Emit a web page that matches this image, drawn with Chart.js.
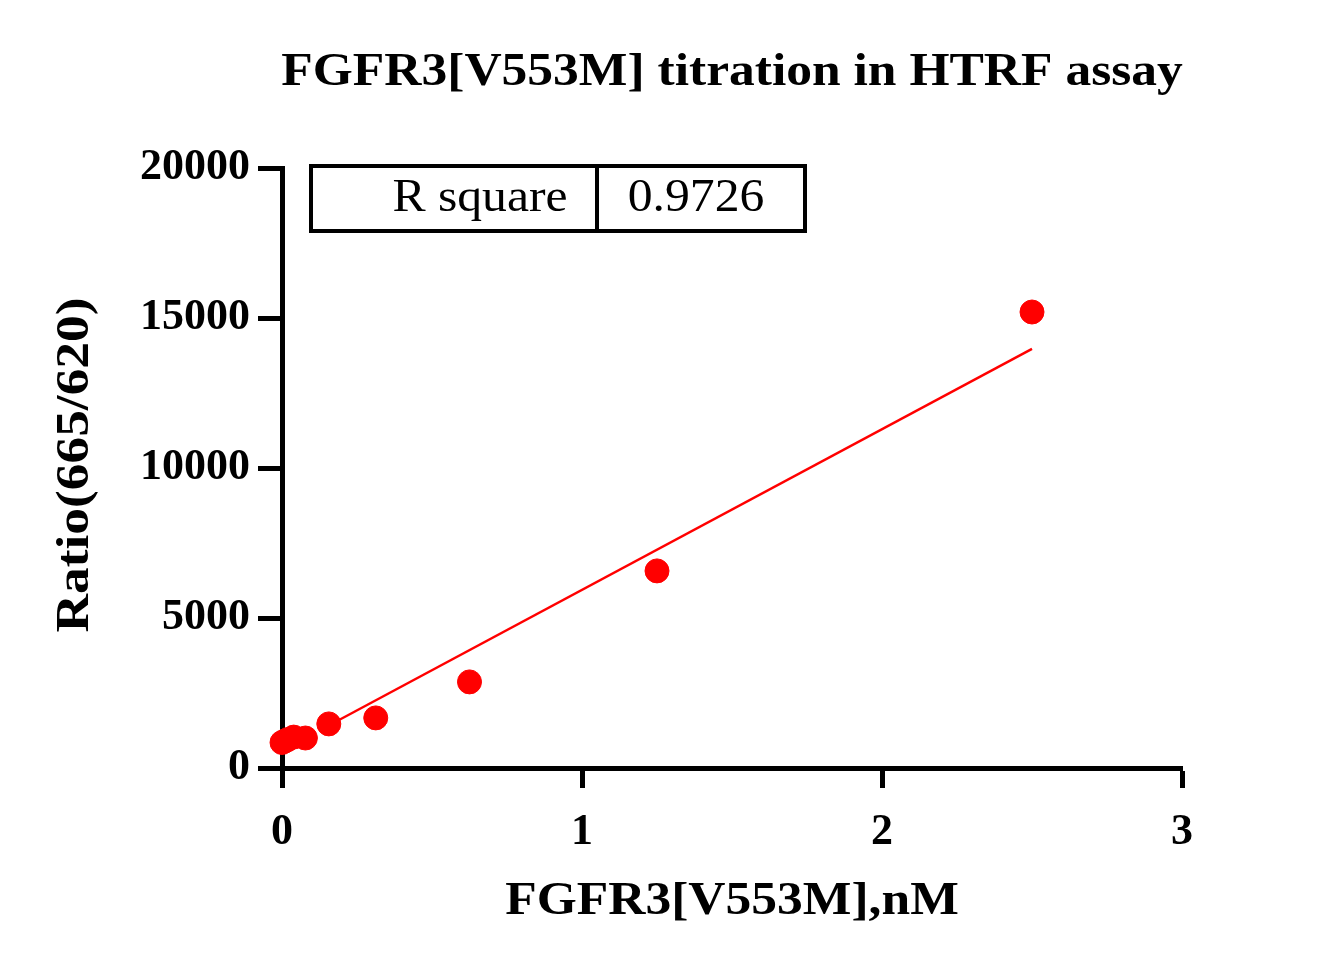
<!DOCTYPE html>
<html><head><meta charset="utf-8">
<script src="https://cdn.jsdelivr.net/npm/chart.js@4"></script>
<style>html,body{margin:0;background:#fff}#c{display:block}</style>
</head><body>
<canvas id="c" width="1334" height="972"></canvas>
<script>
const concX = [2.5, 1.25, 0.625, 0.3125, 0.156, 0.078, 0.039, 0.0195, 0.0098, 0]
const ratioY = [15200, 6570, 2870, 1670, 1470, 1000, 1030, 950, 900, 850]
const fitX = [0.19, 2.5]
const fitY = [1600, 13970]
const xTicks = [0, 1, 2, 3]
const yTicks = [0, 5000, 10000, 15000, 20000]
const rSquare = '0.9726'

const FONT = '"Liberation Serif", "Times New Roman", serif'

function stretched(ctx, text, x, y, sx) {
  ctx.save()
  ctx.translate(x, y)
  ctx.scale(sx, 1)
  ctx.fillText(text, 0, 0)
  ctx.restore()
}

const textPlugin = {
  id: 'texts',
  afterDraw(chart) {
    const ctx = chart.ctx
    ctx.save()
    ctx.fillStyle = '#000'
    ctx.textAlign = 'center'
    ctx.textBaseline = 'middle'
    ctx.font = 'bold 46px ' + FONT
    stretched(ctx, 'FGFR3[V553M] titration in HTRF assay', 732, 73, 1.12)
    stretched(ctx, 'FGFR3[V553M],nM', 732, 902, 1.12)
    ctx.save()
    ctx.translate(76, 465)
    ctx.rotate(-Math.PI / 2)
    stretched(ctx, 'Ratio(665/620)', 0, 0, 1.16)
    ctx.restore()
    // R square table
    ctx.lineWidth = 4
    ctx.strokeStyle = '#000'
    ctx.strokeRect(311, 166, 494, 65)
    ctx.beginPath(); ctx.moveTo(597, 166); ctx.lineTo(597, 231); ctx.stroke()
    ctx.font = '46px ' + FONT
    stretched(ctx, 'R square', 480, 199, 1.08)
    stretched(ctx, rSquare, 696, 199, 1.08)
    ctx.restore()
  }
}

new Chart(document.getElementById('c'), {
  type: 'scatter',
  data: {
    datasets: [
      { data: fitX.map((x, i) => ({ x, y: fitY[i] })), showLine: true, borderColor: '#f00', borderWidth: 2.5, pointRadius: 0, clip: false },
      { data: concX.map((x, i) => ({ x, y: ratioY[i] })), backgroundColor: '#f00', borderColor: '#f00', pointRadius: 12, clip: false }
    ]
  },
  options: {
    responsive: false,
    animation: false,
    layout: { padding: { left: 0, right: 152, top: 168, bottom: 0 } },
    plugins: { legend: { display: false }, tooltip: { enabled: false } },
    scales: {
      x: {
        type: 'linear', min: 0, max: 3,
        afterBuildTicks: s => { s.ticks = xTicks.map(v => ({ value: v })) },
        afterFit: s => { s.height = 204 },
        border: { color: '#000', width: 5 },
        grid: { drawOnChartArea: false, drawTicks: true, tickLength: 20, tickWidth: 5, tickColor: '#000' },
        ticks: { color: '#000', padding: 18, callback: v => String(v), font: { family: FONT, size: 44, weight: 'bold' } }
      },
      y: {
        type: 'linear', min: 0, max: 20000,
        afterBuildTicks: s => { s.ticks = yTicks.map(v => ({ value: v })) },
        afterFit: s => { s.width = 282 },
        border: { color: '#000', width: 5 },
        grid: { drawOnChartArea: false, drawTicks: true, tickLength: 24, tickWidth: 5, tickColor: '#000' },
        ticks: { color: '#000', padding: 8, callback: v => String(v), font: { family: FONT, size: 44, weight: 'bold' } }
      }
    }
  },
  plugins: [textPlugin]
})
</script>
</body></html>
